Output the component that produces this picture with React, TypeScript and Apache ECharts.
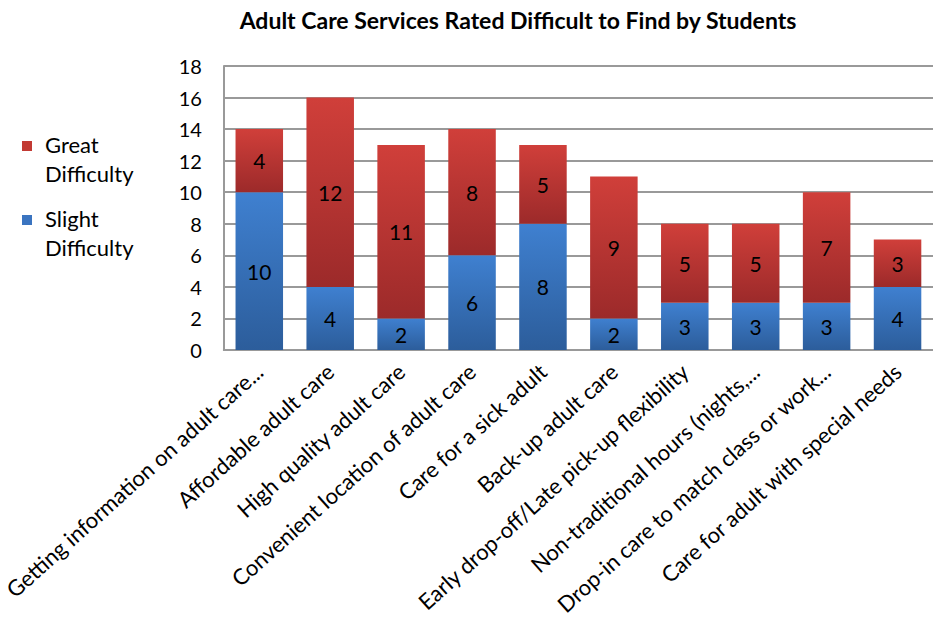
import React, { useEffect, useRef } from "react";
import * as echarts from "echarts";

const categories = [
  "Getting information on adult care...",
  "Affordable adult care",
  "High quality adult care",
  "Convenient location of adult care",
  "Care for a sick adult",
  "Back-up adult care",
  "Early drop-off/Late pick-up flexibility",
  "Non-traditional hours (nights,...",
  "Drop-in care to match class or work...",
  "Care for adult with special needs",
];
const slightDifficulty = [10, 4, 2, 6, 8, 2, 3, 3, 3, 4];
const greatDifficulty = [4, 12, 11, 8, 5, 9, 5, 5, 7, 3];
const legendNames = ["Great Difficulty", "Slight Difficulty"];
const yTicks = { min: 0, max: 18, interval: 2 };

const FONT = "Lato, 'Liberation Sans', sans-serif";
const RED = "#C23A33";
const BLUE = "#3A74C0";

function grad(top: string, bottom: string) {
  return new echarts.graphic.LinearGradient(0, 0, 0, 1, [
    { offset: 0, color: top },
    { offset: 1, color: bottom },
  ]);
}

export default function App() {
  const ref = useRef<HTMLDivElement>(null);
  useEffect(() => {
    document.body.style.margin = "0";
    if (!ref.current) return;
    const chart = echarts.init(ref.current, null, { renderer: "svg" });
    const legendColors = [RED, BLUE];
    const legendGraphics: any[] = [];
    legendNames.forEach((name, i) => {
      const y0 = 141 + i * 74;
      legendGraphics.push({
        type: "rect",
        left: 22,
        top: y0,
        shape: { width: 10, height: 10 },
        style: { fill: legendColors[i] },
      });
      legendGraphics.push({
        type: "text",
        left: 45,
        top: y0 - 11,
        style: {
          text: name.replace(" ", "\n"),
          font: `22px ${FONT}`,
          lineHeight: 29,
          fill: "#000",
        },
      });
    });
    chart.setOption({
      animation: false,
      textStyle: { fontFamily: FONT },
      title: {
        text: "Adult Care Services Rated Difficult to Find by Students",
        left: 513,
        textAlign: "center",
        top: 3,
        textStyle: { fontFamily: FONT, fontSize: 23, fontWeight: "bold", color: "#000" },
      },
      graphic: legendGraphics,
      grid: { left: 222, right: 0, top: 66, bottom: 287, containLabel: false },
      xAxis: {
        type: "category",
        data: categories,
        axisLine: { show: true, lineStyle: { color: "#999", width: 2 } },
        axisTick: { show: false },
        axisLabel: {
          rotate: 42,
          interval: 0,
          margin: 18,
          fontFamily: FONT,
          fontSize: 22,
          color: "#000",
        },
      },
      yAxis: {
        type: "value",
        min: yTicks.min,
        max: yTicks.max,
        interval: yTicks.interval,
        axisLine: { show: true, lineStyle: { color: "#999", width: 2 } },
        axisTick: { show: false },
        splitLine: { show: true, lineStyle: { color: "#999", width: 2 } },
        axisLabel: { fontFamily: FONT, fontSize: 20, color: "#000", margin: 22 },
      },
      series: [
        {
          name: legendNames[1],
          type: "bar",
          stack: "total",
          barWidth: "67%",
          data: slightDifficulty,
          itemStyle: { color: grad("#3F80D0", "#2C5D9B") },
          label: { show: true, position: "inside", color: "#000", fontFamily: FONT, fontSize: 21 },
        },
        {
          name: legendNames[0],
          type: "bar",
          stack: "total",
          barWidth: "67%",
          data: greatDifficulty,
          itemStyle: { color: grad("#D03F3A", "#9C2A2A") },
          label: { show: true, position: "inside", color: "#000", fontFamily: FONT, fontSize: 21 },
        },
      ],
    });
    return () => chart.dispose();
  }, []);
  return <div ref={ref} style={{ width: 933, height: 637 }} />;
}
